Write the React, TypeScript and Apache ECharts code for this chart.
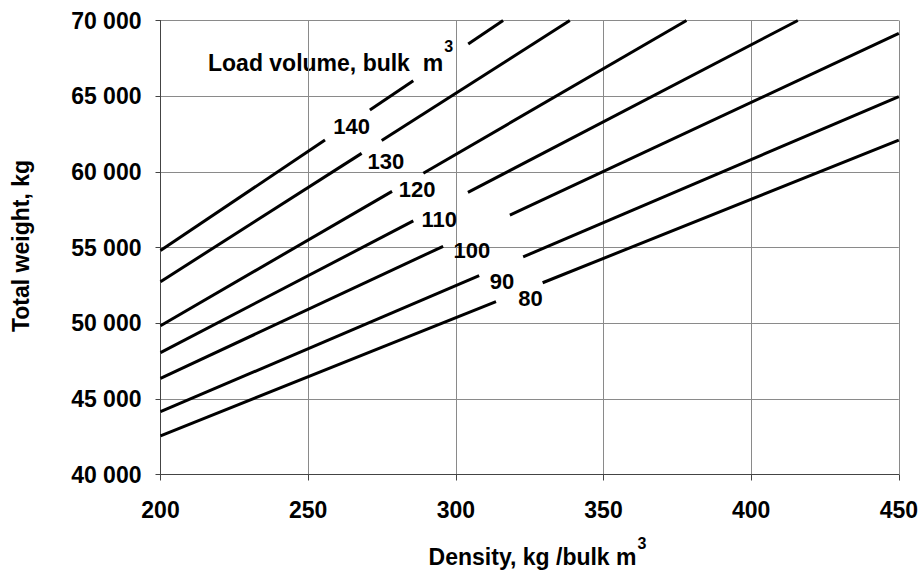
import React, { useEffect, useRef } from 'react';
import * as echarts from 'echarts';

const xTicks = [200, 250, 300, 350, 400, 450];
const yTicks = [40000, 45000, 50000, 55000, 60000, 65000, 70000];
const volumes = ['140', '130', '120', '110', '100', '90', '80'];

type Pt = [number, number] | null;
// each line: points with null marking a gap (where the curve label sits)
const line140: Pt[] = [[200, 54800], [255.7, 62100], null, [270.9, 64090], [285.6, 66020], null, [304.2, 68450], [316.0, 70000]];
const line130: Pt[] = [[200, 52740], [268.1, 61220], null, [274.9, 62070], [338.6, 70000]];
const line120: Pt[] = [[200, 49830], [278.4, 58710], null, [289.0, 59910], [378.1, 70000]];
const line110: Pt[] = [[200, 48050], [285.6, 56760], null, [304.1, 58640], [415.8, 70000]];
const line100: Pt[] = [[200, 46350], [295.7, 55080], null, [318.3, 57140], [450, 69150]];
const line90: Pt[] = [[200, 44150], [307.9, 53140], null, [322.8, 54380], [450, 64970]];
const line80: Pt[] = [[200, 42550], [313.6, 51430], null, [329.4, 52670], [450, 62100]];
const lines = [line140, line130, line120, line110, line100, line90, line80];
const labelPos: [number, number][] = [
  [264.7, 62980], [276.3, 60670], [286.9, 58800], [294.4, 56820], [305.4, 54810], [315.6, 52770], [325.3, 51640],
];

const titleText = 'Load volume, bulk  m';
const xTitleText = 'Density, kg /bulk m';
const yTitleText = 'Total weight, kg';
const supText = '3';

const FONT = '"Liberation Sans", Arial, Helvetica, sans-serif';

function splitSegments(pts: Pt[]): [number, number][][] {
  const segs: [number, number][][] = [];
  let cur: [number, number][] = [];
  for (const p of pts) {
    if (p === null) {
      if (cur.length) segs.push(cur);
      cur = [];
    } else cur.push(p);
  }
  if (cur.length) segs.push(cur);
  return segs;
}

function measure(text: string, size: number): number {
  const ctx = document.createElement('canvas').getContext('2d');
  if (!ctx) return text.length * size * 0.55;
  ctx.font = `bold ${size}px "Liberation Sans", Arial, sans-serif`;
  return ctx.measureText(text).width;
}

const fmtY = (v: number) => String(v).replace(/\B(?=(\d{3})+(?!\d))/g, ' ');

export default function App() {
  const ref = useRef<HTMLDivElement>(null);
  useEffect(() => {
    document.body.style.margin = '0';
    const chart = echarts.init(ref.current!, undefined, { renderer: 'svg' });
    const series: any[] = [];
    lines.forEach((ln, i) => {
      splitSegments(ln).forEach((seg) => {
        series.push({
          type: 'line',
          name: volumes[i],
          data: seg,
          symbol: 'none',
          silent: true,
          lineStyle: { color: '#000', width: 3 },
        });
      });
    });
    series.push({
      type: 'scatter',
      data: labelPos.map((p, i) => ({ value: p, name: volumes[i] })),
      symbolSize: 1,
      silent: true,
      itemStyle: { color: 'rgba(0,0,0,0)', opacity: 1 },
      label: {
        show: true,
        position: 'inside',
        formatter: '{b}',
        color: '#000',
        opacity: 1,
        textBorderWidth: 0,
        textBorderColor: 'rgba(0,0,0,0)',
        fontSize: 22,
        fontWeight: 'bold',
        fontFamily: FONT,
      },
    });

    const T = 23;
    const S = 16;
    const txt = (text: string, x: number, y: number, size: number, extra: any = {}) => ({
      type: 'text',
      x,
      y,
      silent: true,
      ...extra,
      style: {
        text,
        fill: '#000',
        fontSize: size,
        fontWeight: 'bold',
        fontFamily: FONT,
        align: 'left',
        verticalAlign: 'middle',
        ...(extra.style || {}),
      },
    });
    const wTitle = measure(titleText, T);
    const wX = measure(xTitleText, T);
    const wSup = measure(supText, S);
    const xLeft = 537.5 - (wX + 1 + wSup) / 2;

    chart.setOption({
      animation: false,
      backgroundColor: '#fff',
      grid: { left: 160.5, right: 22, top: 20.5, bottom: 99.5, containLabel: false },
      xAxis: {
        type: 'value',
        min: xTicks[0],
        max: xTicks[xTicks.length - 1],
        interval: 50,
        axisLine: { show: true, lineStyle: { color: '#444', width: 1 } },
        axisTick: { show: true, inside: false, length: 6, lineStyle: { color: '#444' } },
        axisLabel: { margin: 24, color: '#000', fontSize: T, fontWeight: 'bold', fontFamily: FONT },
        splitLine: { show: true, lineStyle: { color: '#8a8a8a', width: 1 } },
      },
      yAxis: {
        type: 'value',
        min: yTicks[0],
        max: yTicks[yTicks.length - 1],
        interval: 5000,
        axisLine: { show: true, lineStyle: { color: '#444', width: 1 } },
        axisTick: { show: true, inside: false, length: 5, lineStyle: { color: '#444' } },
        axisLabel: { margin: 19, color: '#000', fontSize: T, fontWeight: 'bold', fontFamily: FONT, formatter: fmtY },
        splitLine: { show: true, lineStyle: { color: '#8a8a8a', width: 1 } },
      },
      graphic: [
        txt(titleText, 208, 62.5, T),
        txt(supText, 208 + wTitle + 1, 46, S),
        txt(xTitleText, xLeft, 557, T),
        txt(supText, xLeft + wX + 1, 543, S),
        txt(yTitleText, 21, 246, T, { rotation: Math.PI / 2, style: { align: 'center' } }),
      ],
      series,
    });
    return () => chart.dispose();
  }, []);
  return <div ref={ref} style={{ width: 921, height: 574 }} />;
}
